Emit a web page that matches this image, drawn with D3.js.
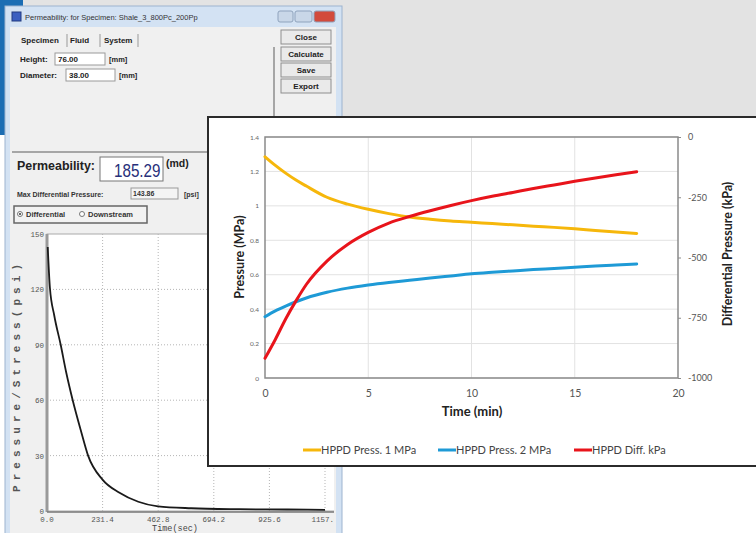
<!DOCTYPE html>
<html>
<head>
<meta charset="utf-8">
<script src="https://cdn.jsdelivr.net/npm/d3@7"></script>
<style>
  body { margin: 0; background: #fff; }
  svg { display: block; }
</style>
</head>
<body>
<div id="chart"></div>
<script>
// HPPD overlay chart
const minutes = [0, 0.5, 1, 1.5, 2, 3, 4, 5, 6, 7, 8, 9, 10, 11, 12, 13, 14, 15, 16, 17, 18];
const press1 = [1.285, 1.235, 1.19, 1.15, 1.115, 1.05, 1.01, 0.98, 0.955, 0.935, 0.922, 0.912, 0.905, 0.897, 0.89, 0.882, 0.875, 0.867, 0.857, 0.848, 0.84];
const press2 = [0.356, 0.39, 0.418, 0.443, 0.465, 0.498, 0.522, 0.54, 0.555, 0.568, 0.581, 0.593, 0.605, 0.614, 0.622, 0.63, 0.636, 0.643, 0.65, 0.656, 0.662];
const diffKpa = [-918, -840, -755, -680, -612, -515, -446, -396, -357, -330, -306, -284, -264, -246, -230, -214, -199, -184, -170, -157, -144];
const timeTicks = [0, 5, 10, 15, 20];
const mpaTicks = [0, 0.2, 0.4, 0.6, 0.8, 1, 1.2, 1.4];
const kpaTicks = [0, -250, -500, -750, -1000];
const seriesNames = ["HPPD Press. 1 MPa", "HPPD Press. 2 MPa", "HPPD Diff. kPa"];
const seriesColors = ["#f6b70b", "#1e9ad6", "#e8141b"];

// software window plot behind it
const seconds = [3, 12, 30, 57, 80, 107, 140, 171, 231, 300, 380, 462, 600, 800, 1000, 1157];
const psi = [143, 121, 106, 90, 75, 60, 44, 30, 17, 10, 5, 2.5, 1.5, 1, 0.8, 0.6];
const secTicks = [0, 231.4, 462.8, 694.2, 925.6, 1157];
const psiTicks = [0, 30, 60, 90, 120, 150];

const W = 756, H = 533;
const svg = d3.select("#chart").append("svg").attr("width", W).attr("height", H);

// desktop background
svg.append("rect").attr("width", W).attr("height", H).attr("fill", "#fff");
svg.append("rect").attr("width", W).attr("height", 117).attr("fill", "#e3e3e3");
svg.append("rect").attr("width", 23).attr("height", 135).attr("fill", "#1b6db3");

// ---- window ----
const ui = "'Liberation Sans', Arial, sans-serif";
const win = svg.append("g");
win.append("rect").attr("x", 5).attr("y", 6).attr("width", 337).attr("height", 540)
  .attr("fill", "#d3e2f3").attr("stroke", "#9db4cf");
win.append("rect").attr("x", 10).attr("y", 27).attr("width", 326).attr("height", 520).attr("fill", "#f0f0f0");

// title bar
win.append("rect").attr("x", 12).attr("y", 12).attr("width", 9).attr("height", 9).attr("fill", "#3b5fc0").attr("stroke", "#223a80");
win.append("text").attr("x", 25).attr("y", 20).attr("font-family", ui).attr("font-size", 7.5)
  .attr("fill", "#333").text("Permeability: for Specimen: Shale_3_800Pc_200Pp");
[[278, 15, "#c9d7e8"], [295, 17, "#c9d7e8"], [314, 21, "#d24a3c"]].forEach(([x, w, c]) => {
  win.append("rect").attr("x", x).attr("y", 11).attr("width", w).attr("height", 11).attr("rx", 2)
    .attr("fill", c).attr("stroke", "#8fa3bd");
});

// tabs
const tabs = [["Specimen", 21], ["Fluid", 70], ["System", 104]];
tabs.forEach(([t, x]) => {
  win.append("text").attr("x", x).attr("y", 43).attr("font-family", ui).attr("font-size", 8)
    .attr("font-weight", "bold").attr("fill", "#222").text(t);
});
[67, 100, 138].forEach(x => win.append("line").attr("x1", x).attr("x2", x).attr("y1", 34).attr("y2", 47).attr("stroke", "#999"));

function field(label, lx, y, bx, bw, val, unit, ux) {
  win.append("text").attr("x", lx).attr("y", y).attr("font-family", ui).attr("font-size", 8)
    .attr("font-weight", "bold").attr("fill", "#222").text(label);
  win.append("rect").attr("x", bx).attr("y", y - 9).attr("width", bw).attr("height", 12)
    .attr("fill", "#fff").attr("stroke", "#9a9a9a");
  win.append("text").attr("x", bx + 3).attr("y", y).attr("font-family", ui).attr("font-size", 8)
    .attr("font-weight", "bold").attr("fill", "#222").text(val);
  win.append("text").attr("x", ux).attr("y", y).attr("font-family", ui).attr("font-size", 7.5)
    .attr("font-weight", "bold").attr("fill", "#222").text(unit);
}
field("Height:", 20, 62, 55, 50, "76.00", "[mm]", 109);
field("Diameter:", 20, 78, 66, 49, "38.00", "[mm]", 119);

const buttons = [["Close", 30], ["Calculate", 47], ["Save", 63], ["Export", 79]];
buttons.forEach(([t, y]) => {
  win.append("rect").attr("x", 281).attr("y", y).attr("width", 50).attr("height", 14)
    .attr("fill", "#eaeaea").attr("stroke", "#8e8e8e");
  win.append("text").attr("x", 306).attr("y", y + 10).attr("text-anchor", "middle")
    .attr("font-family", ui).attr("font-size", 8).attr("font-weight", "bold").attr("fill", "#222").text(t);
});
win.append("line").attr("x1", 274).attr("x2", 274).attr("y1", 47).attr("y2", 152).attr("stroke", "#8e8e8e").attr("stroke-width", 1.5);
win.append("line").attr("x1", 12).attr("x2", 334).attr("y1", 152).attr("y2", 152).attr("stroke", "#8e8e8e").attr("stroke-width", 1.5);

// permeability readout
win.append("text").attr("x", 17).attr("y", 170).attr("font-family", ui).attr("font-size", 13.5)
  .attr("font-weight", "bold").attr("fill", "#222").attr("textLength", 78).attr("lengthAdjust", "spacingAndGlyphs")
  .text("Permeability:");
win.append("rect").attr("x", 100).attr("y", 157).attr("width", 63).attr("height", 24)
  .attr("fill", "#fff").attr("stroke", "#777");
win.append("text").attr("transform", "translate(114,177) scale(0.8,1)").attr("font-family", ui)
  .attr("font-size", 19).attr("fill", "#28307a").text("185.29");
win.append("text").attr("x", 166).attr("y", 167).attr("font-family", ui).attr("font-size", 10.5)
  .attr("font-weight", "bold").attr("fill", "#222").text("(md)");
win.append("text").attr("x", 17).attr("y", 197).attr("font-family", ui).attr("font-size", 7)
  .attr("font-weight", "bold").attr("fill", "#333").text("Max Differential Pressure:");
win.append("rect").attr("x", 131).attr("y", 188).attr("width", 47).attr("height", 11)
  .attr("fill", "#f4f4f4").attr("stroke", "#999");
win.append("text").attr("x", 133).attr("y", 196).attr("font-family", ui).attr("font-size", 7)
  .attr("font-weight", "bold").attr("fill", "#333").text("143.86");
win.append("text").attr("x", 184).attr("y", 197).attr("font-family", ui).attr("font-size", 7)
  .attr("font-weight", "bold").attr("fill", "#333").text("[psi]");
win.append("rect").attr("x", 14).attr("y", 206).attr("width", 133).attr("height", 17)
  .attr("fill", "#f2f2f2").attr("stroke", "#666").attr("stroke-width", 1.5);
[[20, true, "Differential"], [82, false, "Downstream"]].forEach(([x, on, t]) => {
  win.append("circle").attr("cx", x).attr("cy", 214).attr("r", 2.5).attr("fill", "#fff").attr("stroke", "#777");
  if (on) win.append("circle").attr("cx", x).attr("cy", 214).attr("r", 1).attr("fill", "#333");
  win.append("text").attr("x", x + 6).attr("y", 217).attr("font-family", ui).attr("font-size", 7.5)
    .attr("font-weight", "bold").attr("fill", "#333").text(t);
});

// window plot
const mono = "'Liberation Mono', 'DejaVu Sans Mono', monospace";
const clip = svg.append("clipPath").attr("id", "winclip");
clip.append("rect").attr("x", 10).attr("y", 27).attr("width", 324).attr("height", 510);
const wp = win.append("g").attr("clip-path", "url(#winclip)");
const xs = d3.scaleLinear().domain([0, 1157]).range([47, 325]);
const ys = d3.scaleLinear().domain([0, 150]).range([511, 234]);
wp.append("rect").attr("x", 47).attr("y", 234).attr("width", 300).attr("height", 277).attr("fill", "#fff")
  .attr("stroke", "#aaa");
wp.selectAll(".hg").data(psiTicks.slice(1, -1)).join("line")
  .attr("x1", 47).attr("x2", 340).attr("y1", d => ys(d)).attr("y2", d => ys(d))
  .attr("stroke", "#b5b5b5").attr("stroke-dasharray", "1,2");
wp.selectAll(".vg").data(secTicks.slice(1)).join("line")
  .attr("x1", d => xs(d)).attr("x2", d => xs(d)).attr("y1", 234).attr("y2", 511)
  .attr("stroke", "#b5b5b5").attr("stroke-dasharray", "1,2");
wp.append("line").attr("x1", 47).attr("x2", 47).attr("y1", 234).attr("y2", 512).attr("stroke", "#9a9a9a").attr("stroke-width", 3);
wp.append("line").attr("x1", 47).attr("x2", 340).attr("y1", 512).attr("y2", 512).attr("stroke", "#777").attr("stroke-width", 1.5);
wp.selectAll(".yl").data(psiTicks).join("text")
  .attr("x", 44).attr("y", d => ys(d) + 3).attr("text-anchor", "end")
  .attr("font-family", mono).attr("font-size", 7.5).attr("fill", "#555").text(d => d);
wp.selectAll(".xl").data(secTicks).join("text")
  .attr("x", d => xs(d)).attr("y", 522).attr("text-anchor", "middle")
  .attr("font-family", mono).attr("font-size", 7.5).attr("fill", "#555").text(d => d.toFixed(1));
wp.append("text").attr("x", 175).attr("y", 531).attr("text-anchor", "middle")
  .attr("font-family", mono).attr("font-size", 8.5).attr("fill", "#444").text("Time(sec)");
wp.append("text").attr("transform", "translate(20,378) rotate(-90)").attr("text-anchor", "middle")
  .attr("font-family", mono).attr("font-size", 11).attr("font-weight", "bold").attr("fill", "#555")
  .attr("textLength", 228).attr("lengthAdjust", "spacing").text("Pressure/Stress(psi)");
wp.append("path").datum(seconds.map((s, i) => [s, psi[i]]))
  .attr("d", d3.line().x(d => xs(d[0])).y(d => ys(d[1])).curve(d3.curveMonotoneX))
  .attr("fill", "none").attr("stroke", "#1a1a1a").attr("stroke-width", 1.8);

// ---- HPPD overlay chart ----
const font = "Lato, 'Open Sans', sans-serif";
const ov = svg.append("g");
ov.append("rect").attr("x", 208).attr("y", 117).attr("width", 560).attr("height", 349)
  .attr("fill", "#fff").attr("stroke", "#2b2b2b").attr("stroke-width", 2);

const x = d3.scaleLinear().domain([0, 20]).range([265, 678]);
const yL = d3.scaleLinear().domain([0, 1.4]).range([378, 137]);
const yR = d3.scaleLinear().domain([-1000, 0]).range([378, 137]);

ov.selectAll(".gh").data(mpaTicks).join("line")
  .attr("x1", 265).attr("x2", 678).attr("y1", d => yL(d)).attr("y2", d => yL(d))
  .attr("stroke", "#e2e2e2");
ov.selectAll(".gv").data(timeTicks.slice(1, -1)).join("line")
  .attr("x1", d => x(d)).attr("x2", d => x(d)).attr("y1", 137).attr("y2", 378)
  .attr("stroke", "#e2e2e2");
ov.append("rect").attr("x", 265).attr("y", 137).attr("width", 413).attr("height", 241)
  .attr("fill", "none").attr("stroke", "#8a8a8a").attr("stroke-width", 1.5);

ov.append("g").attr("transform", "translate(265,0)")
  .call(d3.axisLeft(yL).tickValues(mpaTicks).tickSize(0).tickPadding(6).tickFormat(d3.format("~g")))
  .call(g => g.select(".domain").remove())
  .call(g => g.selectAll("text").attr("font-family", font).attr("font-size", 6.5).attr("fill", "#666"));
ov.append("g").attr("transform", "translate(678,0)")
  .call(d3.axisRight(yR).tickValues(kpaTicks).tickSize(3).tickPadding(7).tickFormat(d => String(d)))
  .call(g => g.select(".domain").remove())
  .call(g => g.selectAll("line").attr("stroke", "#8a8a8a"))
  .call(g => g.selectAll("text").attr("font-family", font).attr("font-size", 9).attr("fill", "#555"));
ov.append("g").attr("transform", "translate(0,378)")
  .call(d3.axisBottom(x).tickValues(timeTicks).tickSize(0).tickPadding(12))
  .call(g => g.select(".domain").remove())
  .call(g => g.selectAll("text").attr("font-family", font).attr("font-size", 10.5).attr("fill", "#555"));

ov.append("text").attr("x", 472).attr("y", 416).attr("text-anchor", "middle")
  .attr("font-family", font).attr("font-size", 13).attr("font-weight", "bold").attr("fill", "#222").text("Time (min)");
ov.append("text").attr("transform", "translate(244,257) rotate(-90)").attr("text-anchor", "middle")
  .attr("font-family", font).attr("font-size", 12.5).attr("font-weight", "bold").attr("fill", "#222").text("Pressure (MPa)");
ov.append("text").attr("transform", "translate(732,254) rotate(-90)").attr("text-anchor", "middle")
  .attr("font-family", font).attr("font-size", 12.5).attr("font-weight", "bold").attr("fill", "#222").text("Differential Pressure (kPa)");

const series = [
  minutes.map((t, i) => [x(t), yL(press1[i])]),
  minutes.map((t, i) => [x(t), yL(press2[i])]),
  minutes.map((t, i) => [x(t), yR(diffKpa[i])])
];
const line = d3.line().curve(d3.curveMonotoneX);
ov.selectAll(".series").data(series).join("path")
  .attr("d", line).attr("fill", "none")
  .attr("stroke", (d, i) => seriesColors[i]).attr("stroke-width", 3).attr("stroke-linecap", "round");

// legend
const legX = [303, 438, 574];
seriesNames.forEach((n, i) => {
  ov.append("line").attr("x1", legX[i]).attr("x2", legX[i] + 18).attr("y1", 450).attr("y2", 450)
    .attr("stroke", seriesColors[i]).attr("stroke-width", 3);
  ov.append("text").attr("x", legX[i] + 18).attr("y", 454).attr("font-family", font).attr("font-size", 11)
    .attr("fill", "#444").text(n);
});
</script>
</body>
</html>
